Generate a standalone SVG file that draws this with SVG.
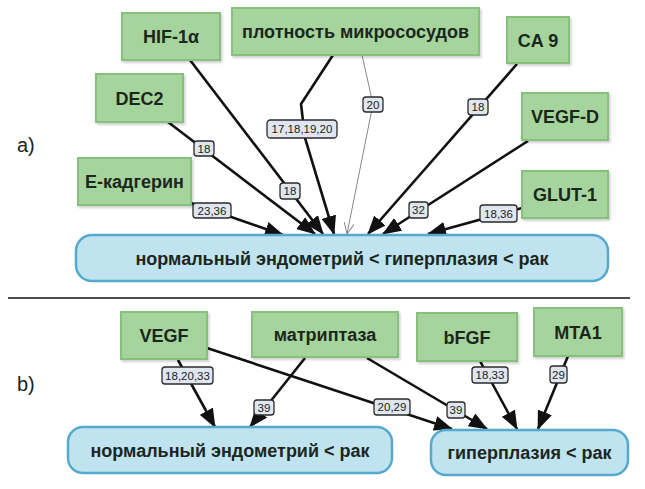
<svg xmlns="http://www.w3.org/2000/svg" width="645" height="489" viewBox="0 0 645 489">
<style>
.node rect.g{fill:#a5d59c;stroke:#86c07c;stroke-width:2}
.node rect.b{fill:#bfe4ef;stroke:#55a9cc;stroke-width:2.5}
.nt{font-family:"Liberation Sans",Arial,sans-serif;font-weight:bold;font-size:18px;fill:#1c261c;text-anchor:middle}
.edge{fill:none;stroke:#111;stroke-width:2.6;marker-end:url(#ah)}
.thin{fill:none;stroke:#888;stroke-width:1;marker-end:url(#ao)}
.lb rect{fill:#dfe6ef;stroke:#2a2a2a;stroke-width:1.3}
.lb text{font-family:"Liberation Sans",Arial,sans-serif;font-size:11.5px;fill:#222;text-anchor:middle}
.sec{font-family:"Liberation Sans",Arial,sans-serif;font-size:20px;fill:#222}
</style>
<defs>
<filter id="sh" x="-10%" y="-10%" width="125%" height="130%">
<feDropShadow dx="1.5" dy="2" stdDeviation="1.2" flood-color="#000" flood-opacity="0.18"/>
</filter>
<marker id="ah" markerUnits="userSpaceOnUse" markerWidth="19" markerHeight="15" viewBox="0 0 19 15" refX="18" refY="7.5" orient="auto">
<path d="M0,0 L19,7.5 L0,15 Z" fill="#111"/>
</marker>
<marker id="ao" markerUnits="userSpaceOnUse" markerWidth="12" markerHeight="10" viewBox="0 0 12 10" refX="11" refY="5" orient="auto">
<path d="M0,0 L11,5 L0,10" fill="none" stroke="#888" stroke-width="1"/>
</marker>
</defs>
<rect width="645" height="489" fill="#fff"/>
<text class="sec" x="17" y="152">a)</text>
<text class="sec" x="17" y="391">b)</text>
<line x1="8" y1="298" x2="630" y2="298" stroke="#111" stroke-width="1.5"/>

<g id="connectors">
<path class="edge" d="M191,203 L283,235"/>
<path class="edge" d="M168,122 L315,234"/>
<path class="edge" d="M190,60 L323,234"/>
<path class="edge" d="M333,55 L301,104 L305,138 L334,234"/>
<path class="thin" d="M362,55 L373,104 L347,234"/>
<path class="edge" d="M517,64 L368,234"/>
<path class="edge" d="M528,141 L383,234"/>
<path class="edge" d="M522,208 L428,234"/>
<path class="edge" d="M178,360 L215,427"/>
<path class="edge" d="M207,348 L452,429"/>
<path class="edge" d="M305,358 L250,427"/>
<path class="edge" d="M367,358 L487,429"/>
<path class="edge" d="M480,361 L517,429"/>
<path class="edge" d="M568,356 L538,429"/>
<g class="lb">
<rect x="193" y="203" width="38" height="15" rx="3"/><text x="212" y="214.5">23,36</text>
<rect x="194" y="141" width="20" height="15" rx="3"/><text x="204" y="152.5">18</text>
<rect x="280" y="183" width="20" height="16" rx="3"/><text x="290" y="195">18</text>
<rect x="267" y="120" width="70" height="18" rx="3.5"/><text x="302" y="133">17,18,19,20</text>
<rect x="363" y="97" width="20" height="15" rx="3"/><text x="373" y="108.5">20</text>
<rect x="468" y="99" width="20" height="16" rx="3"/><text x="478" y="111">18</text>
<rect x="409" y="202" width="19" height="16" rx="3"/><text x="418.5" y="214">32</text>
<rect x="480" y="205" width="37" height="17" rx="3"/><text x="498.5" y="217.5">18,36</text>
<rect x="162" y="367" width="51" height="17" rx="3"/><text x="187.5" y="379.5">18,20,33</text>
<rect x="374" y="399" width="36" height="16" rx="3"/><text x="392" y="411">20,29</text>
<rect x="254" y="400" width="20" height="15" rx="3"/><text x="264" y="411.5">39</text>
<rect x="447" y="402" width="18" height="16" rx="3"/><text x="456" y="414">39</text>
<rect x="472" y="367" width="36" height="16" rx="3"/><text x="490" y="379">18,33</text>
<rect x="550" y="366" width="17" height="17" rx="3"/><text x="558.5" y="378.5">29</text>
</g>
</g>

<g id="n-hif" class="node"><rect class="g" x="122" y="13" width="98" height="47" filter="url(#sh)"/><text class="nt" x="171" y="43">HIF-1α</text></g>
<g id="n-plot" class="node"><rect class="g" x="232" y="8" width="247" height="47" filter="url(#sh)"/><text class="nt" x="355.5" y="37.5">плотность микрососудов</text></g>
<g id="n-ca9" class="node"><rect class="g" x="507" y="17" width="62" height="46" filter="url(#sh)"/><text class="nt" x="538" y="46.5">CA 9</text></g>
<g id="n-dec2" class="node"><rect class="g" x="96" y="74" width="87" height="48" filter="url(#sh)"/><text class="nt" x="139.5" y="104.5">DEC2</text></g>
<g id="n-vegfd" class="node"><rect class="g" x="522" y="93" width="86" height="47" filter="url(#sh)"/><text class="nt" x="565" y="123">VEGF-D</text></g>
<g id="n-ecad" class="node"><rect class="g" x="78" y="158" width="113" height="47" filter="url(#sh)"/><text class="nt" x="134.5" y="188">E-кадгерин</text></g>
<g id="n-glut1" class="node"><rect class="g" x="522" y="171" width="86" height="47" filter="url(#sh)"/><text class="nt" x="565" y="201">GLUT-1</text></g>
<g id="n-main" class="node"><rect class="b" x="76" y="235" width="532" height="46" rx="16"/><text class="nt" x="342" y="264.5">нормальный эндометрий &lt; гиперплазия &lt; рак</text></g>

<g id="n-vegf" class="node"><rect class="g" x="121" y="312" width="86" height="47" filter="url(#sh)"/><text class="nt" x="164" y="342">VEGF</text></g>
<g id="n-matr" class="node"><rect class="g" x="252" y="312" width="146" height="45" filter="url(#sh)"/><text class="nt" x="325" y="341">матриптаза</text></g>
<g id="n-bfgf" class="node"><rect class="g" x="417" y="313" width="100" height="48" filter="url(#sh)"/><text class="nt" x="467" y="343.5">bFGF</text></g>
<g id="n-mta1" class="node"><rect class="g" x="534" y="308" width="88" height="48" filter="url(#sh)"/><text class="nt" x="578" y="338.5">MTA1</text></g>
<g id="n-norm" class="node"><rect class="b" x="68" y="427" width="324" height="46" rx="15"/><text class="nt" x="230" y="456.5">нормальный эндометрий &lt; рак</text></g>
<g id="n-hyper" class="node"><rect class="b" x="431" y="430" width="197" height="45" rx="15"/><text class="nt" x="529.5" y="459">гиперплазия &lt; рак</text></g>
</svg>
